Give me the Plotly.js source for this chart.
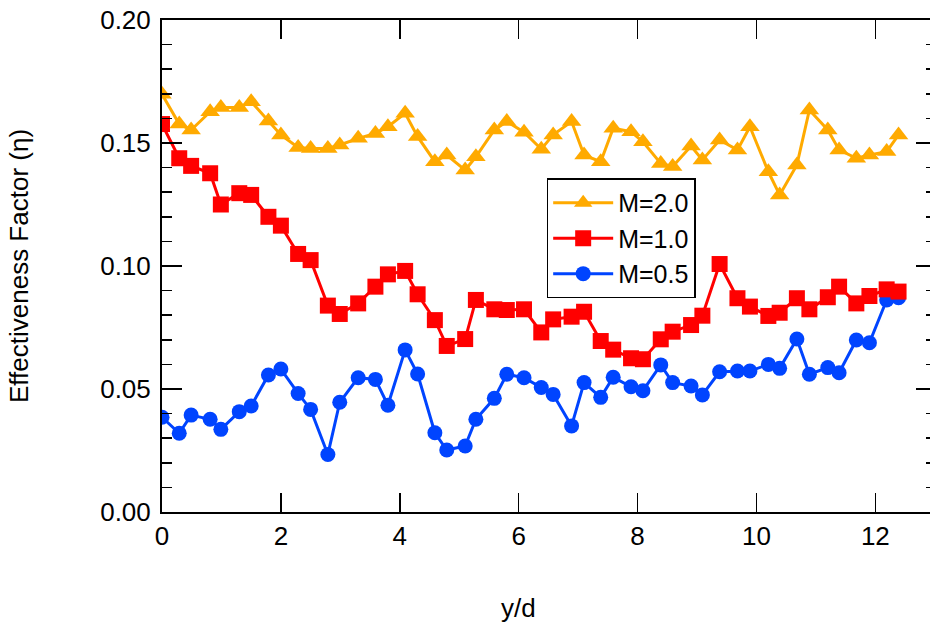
<!DOCTYPE html>
<html>
<head>
<meta charset="utf-8">
<script src="https://cdn.plot.ly/plotly-3.0.1.min.js"></script>
<style>
  html, body { margin: 0; padding: 0; overflow: hidden; background: #fff; }
  #chart { width: 936px; height: 634px; }
</style>
</head>
<body>
<div id="chart"></div>
<script>
// y/d positions (shared by all series)
const yd = [0, 0.29, 0.49, 0.81, 0.99, 1.30, 1.50, 1.79, 2.00, 2.29,
  2.50, 2.79, 2.99, 3.30, 3.59, 3.80, 4.09, 4.30, 4.59, 4.79,
  5.10, 5.28, 5.59, 5.80, 6.09, 6.38, 6.58, 6.89, 7.10, 7.38,
  7.59, 7.89, 8.09, 8.39, 8.59, 8.90, 9.09, 9.38, 9.68, 9.89,
  10.20, 10.39, 10.68, 10.89, 11.20, 11.39, 11.68, 11.90, 12.19, 12.39];

// Effectiveness factor, M = 2.0
const etaM20 = [0.1698, 0.1577, 0.1553, 0.1627, 0.1644, 0.1644, 0.1668, 0.1589, 0.1533, 0.1482,
  0.1478, 0.1478, 0.1492, 0.1519, 0.1539, 0.1566, 0.1621, 0.1526, 0.1424, 0.1451,
  0.1390, 0.1444, 0.1553, 0.1587, 0.1544, 0.1475, 0.1533, 0.1587, 0.1451, 0.1424,
  0.1560, 0.1546, 0.1505, 0.1417, 0.1404, 0.1488, 0.1431, 0.1512, 0.1472, 0.1566,
  0.1383, 0.1289, 0.1411, 0.1634, 0.1553, 0.1472, 0.1438, 0.1451, 0.1465, 0.1533];

// Effectiveness factor, M = 1.0
const etaM10 = [0.1577, 0.1438, 0.1407, 0.1377, 0.1250, 0.1296, 0.1289, 0.1200, 0.1164, 0.1049,
  0.1024, 0.0839, 0.0805, 0.0848, 0.0916, 0.0966, 0.0980, 0.0885, 0.0780, 0.0675,
  0.0703, 0.0862, 0.0824, 0.0821, 0.0824, 0.0730, 0.0783, 0.0794, 0.0814, 0.0695,
  0.0660, 0.0625, 0.0621, 0.0702, 0.0733, 0.0760, 0.0798, 0.1008, 0.0869, 0.0835,
  0.0797, 0.0810, 0.0869, 0.0824, 0.0873, 0.0916, 0.0848, 0.0878, 0.0905, 0.0896];

// Effectiveness factor, M = 0.5
const etaM05 = [0.0385, 0.0320, 0.0394, 0.0377, 0.0336, 0.0408, 0.0431, 0.0557, 0.0581, 0.0482,
  0.0417, 0.0234, 0.0446, 0.0546, 0.0539, 0.0434, 0.0659, 0.0561, 0.0322, 0.0252,
  0.0268, 0.0377, 0.0462, 0.0560, 0.0546, 0.0506, 0.0478, 0.0350, 0.0526, 0.0466,
  0.0548, 0.0509, 0.0493, 0.0598, 0.0526, 0.0512, 0.0476, 0.0570, 0.0573, 0.0573,
  0.0600, 0.0584, 0.0703, 0.0560, 0.0587, 0.0566, 0.0699, 0.0688, 0.0862, 0.0871];

const seriesNames = ['M=0.5', 'M=1.0', 'M=2.0'];
const xTickVals = [0, 2, 4, 6, 8, 10, 12];
const yTickVals = [0.00, 0.05, 0.10, 0.15, 0.20];
const yTickText = ['0.00', '0.05', '0.10', '0.15', '0.20'];
const xTitle = 'y/d';
const yTitle = 'Effectiveness Factor (η)';

const FONT = '"Liberation Sans", Arial, Helvetica, sans-serif';

const traces = [
  { x: yd, y: etaM05, name: seriesNames[0], type: 'scatter', mode: 'lines+markers',
    line: { color: '#0044ff', width: 3 },
    marker: { symbol: 'circle', size: 15, color: '#0044ff' } },
  { x: yd, y: etaM10, name: seriesNames[1], type: 'scatter', mode: 'lines+markers',
    line: { color: '#ff0000', width: 3 },
    marker: { symbol: 'square', size: 16, color: '#ff0000' } },
  { x: yd, y: etaM20, name: seriesNames[2], type: 'scatter', mode: 'lines+markers',
    line: { color: '#ffaa00', width: 3 },
    marker: { symbol: 'triangle-up', size: 17, color: '#ffaa00' } }
];

const layout = {
  width: 936, height: 634,
  margin: { l: 162, r: 0, t: 20, b: 122, pad: 0 },
  paper_bgcolor: '#ffffff', plot_bgcolor: '#ffffff',
  font: { family: FONT, size: 26, color: '#000' },
  showlegend: true,
  legend: {
    x: 0.497, y: 0.678, xanchor: 'left', yanchor: 'top',
    bordercolor: '#000', borderwidth: 1.5, bgcolor: '#fff',
    font: { family: FONT, size: 25, color: '#000' },
    traceorder: 'reversed', itemwidth: 60, tracegroupgap: 0
  },
  xaxis: {
    range: [0, 13.02], showgrid: false, zeroline: false,
    showline: true, linecolor: '#000', linewidth: 2, mirror: 'ticks',
    ticks: 'inside', ticklen: 19, tickwidth: 1.5, tickcolor: '#000',
    tickmode: 'array', tickvals: xTickVals,
    tickfont: { family: FONT, size: 26, color: '#000' }
  },
  yaxis: {
    range: [0, 0.2], showgrid: false, zeroline: false,
    showline: true, linecolor: '#000', linewidth: 2, mirror: 'ticks',
    ticks: 'inside', ticklen: 20, tickwidth: 1.5, tickcolor: '#000',
    tickmode: 'array', tickvals: yTickVals, ticktext: yTickText,
    ticklabelstandoff: 4,
    minor: { dtick: 0.01, ticks: 'inside', ticklen: 10, tickwidth: 1.5, tickcolor: '#000', showgrid: false },
    tickfont: { family: FONT, size: 26, color: '#000' },
    title: { text: yTitle, font: { family: FONT, size: 26, color: '#000' }, standoff: 64 }
  },
  annotations: [{
    text: xTitle, xref: 'paper', yref: 'paper', x: 0.461, y: -0.195,
    xanchor: 'center', yanchor: 'middle', showarrow: false,
    font: { family: FONT, size: 26, color: '#000' }
  }]
};

Plotly.newPlot('chart', traces, layout, { displayModeBar: false, staticPlot: true });
</script>
</body>
</html>
